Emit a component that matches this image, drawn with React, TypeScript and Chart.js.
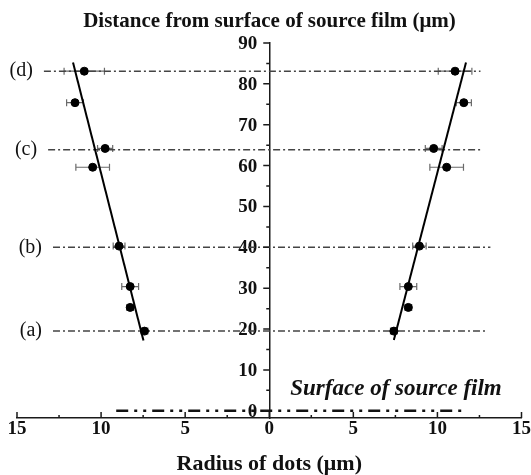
import React, { useEffect, useRef } from 'react';
import { Chart, registerables } from 'chart.js';

Chart.register(...registerables);

// ---- data ----
const depths = [19.5, 25.3, 30.4, 40.3, 59.6, 64.2, 75.4, 83.1];
const leftRadius = [7.42, 8.27, 8.27, 8.93, 10.5, 9.76, 11.55, 11.0];
const leftErr = [0.2, 0.2, 0.5, 0.35, 1.0, 0.45, 0.5, 1.2];
const rightRadius = [7.41, 8.27, 8.27, 8.93, 10.55, 9.78, 11.57, 11.05];
const rightErr = [0.2, 0.2, 0.5, 0.4, 1.0, 0.5, 0.45, 1.0];

const leftFitX = [-11.67, -7.48];
const leftFitY = [85.2, 17.2];
const rightFitX = [11.7, 7.41];
const rightFitY = [85.2, 17.3];

const levelLabels = ['(a)', '(b)', '(c)', '(d)'];
const levelDepths = [19.5, 40.0, 63.9, 83.1];
const levelStart = [-12.86, -12.86, -13.15, -13.4];
const levelEnd = [13.0, 13.15, 12.7, 12.56];

const surfaceDepth = 0;
const surfaceStart = -9.1;
const surfaceEnd = 11.55;
const surfaceText = 'Surface of source film';

const yTickValues = [0, 10, 20, 30, 40, 50, 60, 70, 80, 90];
const yMinorValues = [5, 15, 25, 35, 45, 55, 65, 75, 85];
const xTickValues = [-15, -10, -5, 0, 5, 10, 15];
const xMinorValues = [-12.5, -7.5, -2.5, 2.5, 7.5, 12.5];

const titleText = 'Distance from surface of source film (\u03bcm)';
const xTitleText = 'Radius of dots (\u03bcm)';

const SERIF = "'Liberation Serif', 'Times New Roman', serif";

const decorPlugin = {
  id: 'decor',
  beforeDatasetsDraw(chart: any) {
    const { ctx, scales } = chart;
    const x = scales.x;
    const y = scales.y;
    // y tick labels (placed left of the centred axis)
    const x0 = x.getPixelForValue(0);
    ctx.save();
    ctx.fillStyle = '#111';
    ctx.font = `bold 19px ${SERIF}`;
    ctx.textAlign = 'right';
    ctx.textBaseline = 'middle';
    y.ticks.forEach((t: any) => {
      ctx.fillText(String(t.value), x0 - 12, y.getPixelForValue(t.value) + 1);
    });
    ctx.restore();

    ctx.save();
    ctx.strokeStyle = '#6a6a6a';
    ctx.lineWidth = 1.2;
    const drawErr = (xs: number[], errs: number[]) => {
      xs.forEach((v, i) => {
        const py = y.getPixelForValue(depths[i]);
        const p1 = x.getPixelForValue(v - errs[i]);
        const p2 = x.getPixelForValue(v + errs[i]);
        ctx.beginPath();
        ctx.moveTo(p1, py);
        ctx.lineTo(p2, py);
        ctx.moveTo(p1, py - 3.5);
        ctx.lineTo(p1, py + 3.5);
        ctx.moveTo(p2, py - 3.5);
        ctx.lineTo(p2, py + 3.5);
        ctx.stroke();
      });
    };
    drawErr(leftRadius.map((v) => -v), leftErr);
    drawErr(rightRadius, rightErr);
    ctx.restore();
  },
  afterDatasetsDraw(chart: any) {
    const { ctx, scales } = chart;
    const x = scales.x;
    const y = scales.y;
    const x0 = x.getPixelForValue(0);
    const yb = x.top;
    ctx.save();
    ctx.strokeStyle = '#1a1a1a';
    ctx.lineWidth = 1.5;
    ctx.beginPath();
    yTickValues.forEach((v) => {
      const py = y.getPixelForValue(v);
      ctx.moveTo(x0 - 6, py);
      ctx.lineTo(x0, py);
    });
    yMinorValues.forEach((v) => {
      const py = y.getPixelForValue(v);
      ctx.moveTo(x0 - 3, py);
      ctx.lineTo(x0, py);
    });
    xTickValues.forEach((v) => {
      const px = x.getPixelForValue(v);
      ctx.moveTo(px, yb);
      ctx.lineTo(px, yb - 6);
    });
    xMinorValues.forEach((v) => {
      const px = x.getPixelForValue(v);
      ctx.moveTo(px, yb);
      ctx.lineTo(px, yb - 3);
    });
    ctx.stroke();

    // level labels
    ctx.fillStyle = '#111';
    ctx.font = `20px ${SERIF}`;
    ctx.textAlign = 'right';
    ctx.textBaseline = 'middle';
    levelLabels.forEach((t, i) => {
      const px = x.getPixelForValue(levelStart[i]);
      const py = y.getPixelForValue(levelDepths[i]);
      ctx.fillText(t, px - 11, py);
    });

    // surface annotation
    ctx.font = `italic bold 23px ${SERIF}`;
    ctx.textAlign = 'left';
    ctx.fillText(surfaceText, x.getPixelForValue(1.25), y.getPixelForValue(5.3));
    ctx.restore();
  },
};

export default function App() {
  const ref = useRef<HTMLCanvasElement>(null);

  useEffect(() => {
    const canvas = ref.current;
    if (!canvas) return;

    const levelSets = levelLabels.map((_, i) => ({
      type: 'line' as const,
      data: [
        { x: levelStart[i], y: levelDepths[i] },
        { x: levelEnd[i], y: levelDepths[i] },
      ],
      borderColor: '#444',
      borderWidth: 1.5,
      borderDash: [7, 3, 2, 3],
      pointRadius: 0,
      showLine: true,
      order: 5,
    }));

    const chart = new Chart(canvas, {
      type: 'scatter',
      data: {
        datasets: [
          ...levelSets,
          {
            type: 'line',
            data: [
              { x: surfaceStart, y: surfaceDepth },
              { x: surfaceEnd, y: surfaceDepth },
            ],
            borderColor: '#111',
            borderWidth: 2.5,
            borderDash: [12, 6, 3, 6, 3, 6],
            pointRadius: 0,
            showLine: true,
            order: 5,
          },
          {
            data: leftRadius.map((v, i) => ({ x: -v, y: depths[i] })),
            backgroundColor: '#000',
            borderColor: '#000',
            pointRadius: 4,
            showLine: false,
            order: 2,
          },
          {
            data: rightRadius.map((v, i) => ({ x: v, y: depths[i] })),
            backgroundColor: '#000',
            borderColor: '#000',
            pointRadius: 4,
            showLine: false,
            order: 2,
          },
          {
            type: 'line',
            data: leftFitX.map((v, i) => ({ x: v, y: leftFitY[i] })),
            borderColor: '#000',
            borderWidth: 2,
            pointRadius: 0,
            showLine: true,
            order: 1,
          },
          {
            type: 'line',
            data: rightFitX.map((v, i) => ({ x: v, y: rightFitY[i] })),
            borderColor: '#000',
            borderWidth: 2,
            pointRadius: 0,
            showLine: true,
            order: 1,
          },
        ],
      },
      options: {
        responsive: false,
        animation: false,
        devicePixelRatio: 1,
        layout: { padding: { left: 17, right: 9, top: 0, bottom: 0 } },
        plugins: {
          legend: { display: false },
          tooltip: { enabled: false },
          title: {
            display: true,
            text: titleText,
            color: '#111',
            font: { family: SERIF, size: 21, weight: 'bold' },
            padding: { top: 9, bottom: 8.8 },
          },
        },
        scales: {
          x: {
            type: 'linear',
            position: 'bottom',
            min: -15,
            max: 15,
            afterBuildTicks: (scale: any) => {
              scale.ticks = xTickValues.map((v) => ({ value: v }));
            },
            ticks: {
              color: '#111',
              font: { family: SERIF, size: 19, weight: 'bold' },
              padding: 0,
              maxRotation: 0,
              callback: (v: any) => String(Math.abs(Number(v))),
            },
            grid: { display: false, drawTicks: false },
            border: { display: true, color: '#1a1a1a', width: 1.5 },
            title: {
              display: true,
              text: xTitleText,
              color: '#111',
              font: { family: SERIF, size: 22, weight: 'bold' },
              padding: { top: 10.8, bottom: -3 },
            },
          },
          y: {
            type: 'linear',
            position: { x: 0 },
            min: -1.76,
            max: 90,
            afterBuildTicks: (scale: any) => {
              scale.ticks = yTickValues.map((v) => ({ value: v }));
            },
            ticks: { display: false },
            grid: { display: false, drawTicks: false },
            border: { display: true, color: '#1a1a1a', width: 1.5 },
          },
        },
      },
      plugins: [decorPlugin],
    } as any);

    return () => chart.destroy();
  }, []);

  return (
    <div style={{ position: 'absolute', left: 0, top: 0, width: 531, height: 475, background: '#fff' }}>
      <canvas ref={ref} width={531} height={475} style={{ display: 'block' }} />
    </div>
  );
}
